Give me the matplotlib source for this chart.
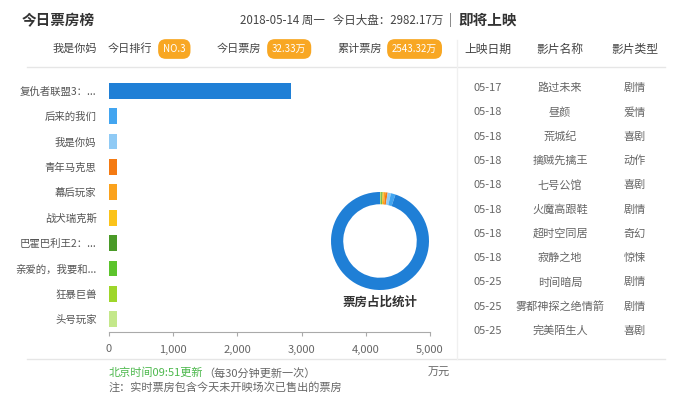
import numpy as np
import matplotlib
matplotlib.use("Agg")
import matplotlib.pyplot as plt
from matplotlib.lines import Line2D

plt.rcParams['font.family'] = ['Noto Sans CJK SC', 'DejaVu Sans']

# box office data (万元)
films = ['复仇者联盟3：...', '后来的我们', '我是你妈', '青年马克思', '幕后玩家',
         '战犬瑞克斯', '巴霍巴利王2：...', '亲爱的，我要和...', '狂暴巨兽', '头号玩家']
box_office = [2829.8, 45, 32.33, 22, 16, 12, 9, 7, 5, 4]
bar_colors = ['#1f7fd6', '#42a5f0', '#8fcaf5', '#f47a12', '#fba21c',
              '#fbc31a', '#4a9a28', '#5cc42c', '#9ed62a', '#c4e88a']
xticks = [0, 1000, 2000, 3000, 4000, 5000]

upcoming_dates = ['05-17', '05-18', '05-18', '05-18', '05-18', '05-18',
                  '05-18', '05-18', '05-25', '05-25', '05-25']
upcoming_names = ['路过未来', '昼颜', '荒城纪', '擒贼先擒王', '七号公馆', '火魔高跟鞋',
                  '超时空同居', '寂静之地', '时间暗局', '雾都神探之绝情箭', '完美陌生人']
upcoming_types = ['剧情', '爱情', '喜剧', '动作', '喜剧', '剧情',
                  '奇幻', '惊悚', '剧情', '剧情', '喜剧']

W, H = 690, 401
fig = plt.figure(figsize=(W / 100, H / 100), dpi=100)
fig.patch.set_facecolor('white')


def fx(x):
    return x / W


def fy(y):
    return 1 - y / H


def txt(x, y, s, **kw):
    kw.setdefault('va', 'center')
    kw.setdefault('color', '#444444')
    fig.text(fx(x), fy(y), s, **kw)


def hline(x0, x1, y, color='#e6e6e6'):
    fig.add_artist(Line2D([fx(x0), fx(x1)], [fy(y), fy(y)], color=color, lw=1))


def badge(x, y, s):
    fig.text(fx(x), fy(y), s, ha='left', va='center', fontsize=7, color='white',
             bbox=dict(boxstyle='round,pad=0.5,rounding_size=0.8',
                       fc='#f8a723', ec='none'))


# header
txt(22, 20, '今日票房榜', fontsize=10.5, fontweight='bold', color='#333333')
txt(240, 20, '2018-05-14 周一   今日大盘：2982.17万', fontsize=8.3, color='#444444')
txt(449, 20, '|', fontsize=8.3, color='#666666')
txt(97, 49, '我是你妈', fontsize=8, ha='right')
txt(108, 49, '今日排行', fontsize=8)
badge(163, 49, 'NO.3')
txt(217, 49, '今日票房', fontsize=8)
badge(272, 49, '32.33万')
txt(337, 49, '累计票房', fontsize=8)
badge(392, 49, '2543.32万')
hline(27, 665, 67)
hline(27, 665, 359)
fig.add_artist(Line2D([fx(457), fx(457)], [fy(40), fy(359)], color='#f0f0f0', lw=1))

# bar chart
bar_min = 130  # minimum drawn bar length, like a barMinHeight option
ax = fig.add_axes([fx(109), fy(332), fx(430) - fx(109), (332 - 78) / H])
pos = np.arange(len(films))
shown = np.maximum(np.array(box_office), bar_min)
ax.barh(pos, shown, height=0.62, color=bar_colors)
ax.set_ylim(len(films) - 0.5, -0.5)
ax.set_xlim(0, 5000)
ax.set_xticks(xticks)
ax.set_xticklabels([f'{v:,}' for v in xticks], fontsize=8, color='#666666')
ax.set_yticks(pos)
ax.set_yticklabels(films, fontsize=7.5, color='#555555')
ax.tick_params(axis='y', length=0, pad=9)
ax.tick_params(axis='x', length=3, color='#aaaaaa', pad=6)
for sp in ['top', 'right', 'left']:
    ax.spines[sp].set_visible(False)
ax.spines['bottom'].set_color('#aaaaaa')

# share donut
r = 49
pax = fig.add_axes([fx(380 - r), fy(241 + r), 2 * r / W, 2 * r / H])
pax.pie(box_office[::-1], colors=bar_colors[::-1], startangle=90, counterclock=False,
        radius=1, wedgeprops=dict(width=0.25, edgecolor='none'))
pax.set_xlim(-1, 1)
pax.set_ylim(-1, 1)
pax.set_aspect('auto')
pax.axis('off')
txt(380, 302, '票房占比统计', fontsize=9, fontweight='bold', ha='center', color='#333333')

# footer
txt(109, 373, '北京时间09:51更新', fontsize=8, color='#4cb84c')
txt(203, 373, '（每30分钟更新一次）', fontsize=8, color='#666666')
txt(450, 373, '万元', fontsize=8, ha='right', color='#666666')
txt(109, 387, '注：实时票房包含今天未开映场次已售出的票房', fontsize=8, color='#666666')

# upcoming table
txt(458, 20, '即将上映', fontsize=10.5, fontweight='bold', color='#333333')
col_x = [488, 560, 635]
for cx, head in zip(col_x, ['上映日期', '影片名称', '影片类型']):
    txt(cx, 49, head, fontsize=8.5, ha='center')
for i, (d, n, t) in enumerate(zip(upcoming_dates, upcoming_names, upcoming_types)):
    y = 88 + i * 24.3
    txt(col_x[0], y, d, fontsize=8, ha='center', color='#666666')
    txt(col_x[1], y, n, fontsize=8, ha='center', color='#666666')
    txt(col_x[2], y, t, fontsize=8, ha='center', color='#666666')

fig.savefig('out.png', dpi=100, facecolor='white')
